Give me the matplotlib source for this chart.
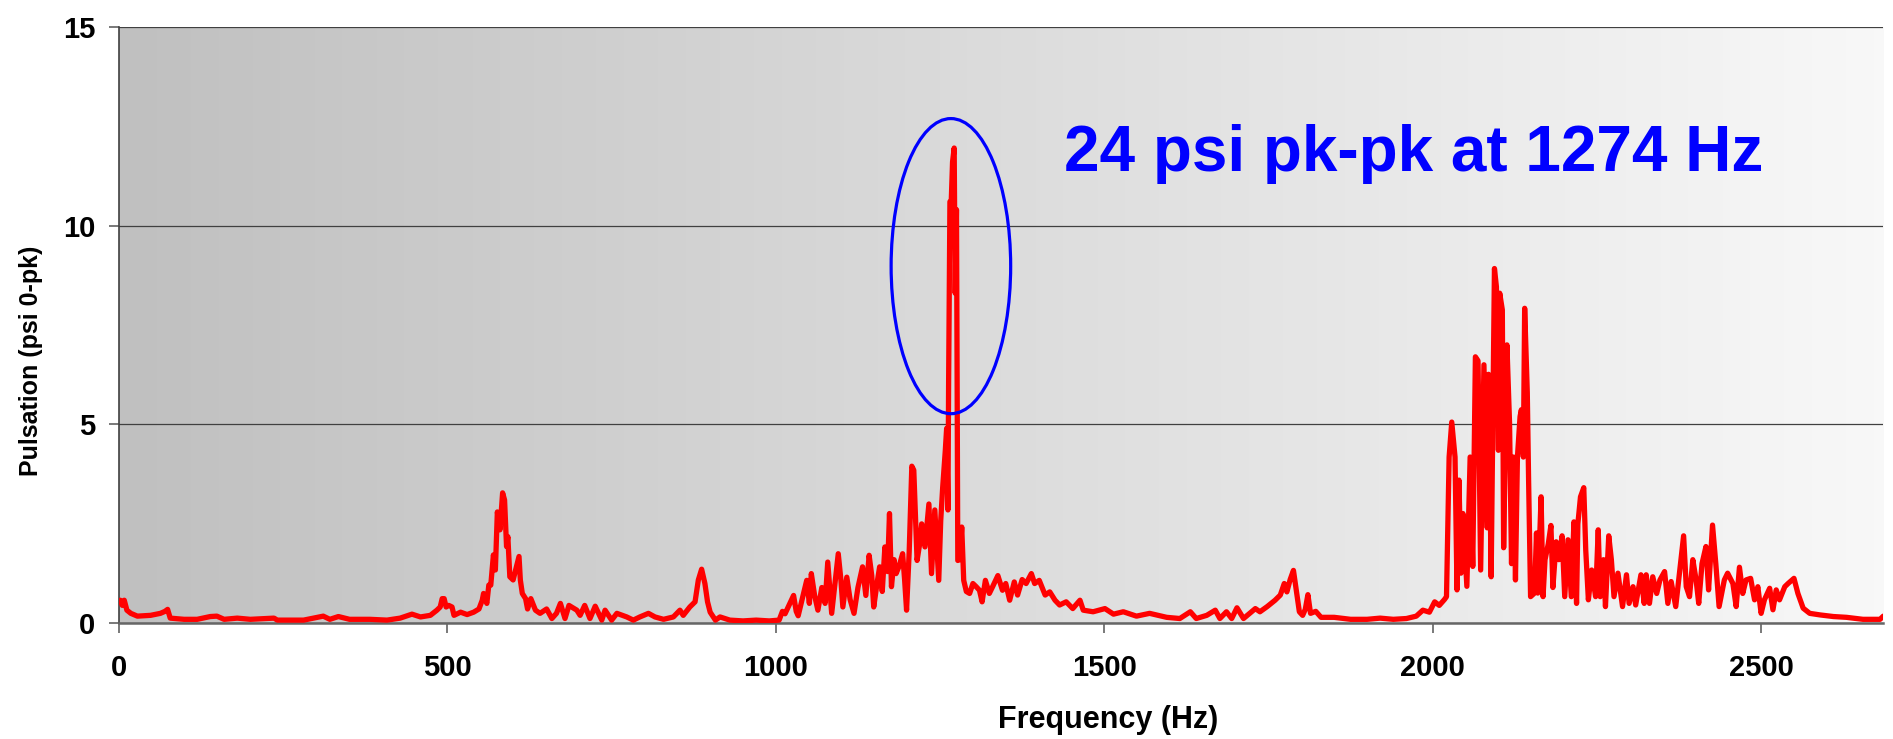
import matplotlib
matplotlib.use("Agg")
import matplotlib.pyplot as plt
import numpy as np
from matplotlib.patches import Ellipse
from matplotlib.colors import LinearSegmentedColormap

plt.rcParams['font.family'] = ['Liberation Sans', 'DejaVu Sans']
plt.rcParams['font.weight'] = 'bold'

# ---- data ----
freq_hz = [
    0, 2, 5, 8, 12, 18, 28, 48, 63, 70, 74, 78, 99, 119, 139, 149, 160, 180, 200, 236,
    241, 281, 311, 321, 334, 351, 382, 408, 428, 446, 459, 474, 484, 489, 492, 495, 498, 502, 507, 510,
    520, 530, 540, 548, 553, 555, 560, 563, 566, 570, 573, 576, 580, 584, 587, 590, 592, 595, 600, 609,
    611, 614, 619, 622, 627, 634, 641, 651, 659, 666, 672, 679, 685, 697, 702, 709, 717, 725, 735, 740,
    750, 758, 773, 783, 793, 806, 816, 829, 844, 854, 859, 869, 877, 882, 887, 892, 896, 900, 908, 915,
    930, 950, 970, 990, 1005, 1010, 1014, 1020, 1027, 1031, 1034, 1040, 1047, 1051, 1054, 1059, 1064, 1070, 1075, 1079,
    1082, 1085, 1090, 1095, 1099, 1102, 1108, 1113, 1119, 1125, 1132, 1137, 1142, 1146, 1149, 1154, 1158, 1162, 1166, 1170,
    1173, 1176, 1180, 1183, 1188, 1193, 1196, 1199, 1203, 1207, 1210, 1215, 1219, 1222, 1227, 1233, 1237, 1242, 1248, 1251,
    1254, 1258, 1260, 1262, 1263, 1265, 1267, 1269, 1271.5, 1273, 1275, 1277, 1280, 1283, 1286, 1290, 1295, 1300, 1305, 1310,
    1314, 1319, 1325, 1330, 1338, 1345, 1350, 1356, 1363, 1368, 1375, 1381, 1389, 1394, 1401, 1410, 1417, 1425, 1432, 1442,
    1452, 1463, 1468, 1483, 1501, 1514, 1529, 1549, 1569, 1595, 1615, 1631, 1640, 1656, 1669, 1676, 1686, 1694, 1702, 1712,
    1730, 1737, 1748, 1760, 1768, 1774, 1778, 1783, 1788, 1793, 1797, 1802, 1806, 1810, 1814, 1822, 1830, 1850, 1875, 1900,
    1920, 1940, 1960, 1975, 1985, 1995, 2003, 2010, 2018, 2021, 2025, 2029, 2034, 2037, 2040, 2043, 2046, 2052, 2057, 2061,
    2065, 2069, 2073, 2078, 2083, 2085, 2089, 2094, 2097, 2100, 2102, 2106, 2108, 2113, 2117, 2120, 2123, 2126, 2129, 2133,
    2135, 2138, 2140, 2144, 2146, 2149, 2155, 2158, 2160, 2165, 2168, 2171, 2176, 2180, 2183, 2188, 2192, 2197, 2201, 2206,
    2211, 2215, 2219, 2221, 2225, 2230, 2233, 2237, 2242, 2248, 2252, 2255, 2260, 2263, 2268, 2272, 2276, 2282, 2289, 2295,
    2299, 2305, 2309, 2317, 2322, 2325, 2330, 2335, 2341, 2346, 2353, 2358, 2363, 2370, 2378, 2382, 2386, 2391, 2396, 2401,
    2405, 2410, 2416, 2420, 2426, 2431, 2436, 2444, 2449, 2457, 2462, 2467, 2472, 2477, 2484, 2490, 2495, 2500, 2505, 2513,
    2518, 2523, 2528, 2536, 2541, 2550, 2556, 2564, 2574, 2590, 2610, 2630, 2655, 2681, 2686,
]
pulsation_psi = [
    0.55, 0.58, 0.45, 0.58, 0.33, 0.25, 0.18, 0.2, 0.25, 0.3, 0.35, 0.13, 0.1, 0.1, 0.17, 0.18, 0.1, 0.13, 0.1, 0.13,
    0.08, 0.08, 0.18, 0.1, 0.17, 0.1, 0.1, 0.08, 0.13, 0.23, 0.16, 0.2, 0.33, 0.41, 0.62, 0.62, 0.41, 0.45, 0.41, 0.2,
    0.28, 0.22, 0.28, 0.36, 0.58, 0.75, 0.5, 0.96, 0.96, 1.72, 1.34, 2.8, 2.35, 3.28, 3.1, 1.93, 2.18, 1.17, 1.09, 1.68,
    1.09, 0.75, 0.62, 0.36, 0.62, 0.33, 0.25, 0.36, 0.12, 0.25, 0.5, 0.12, 0.45, 0.33, 0.2, 0.45, 0.12, 0.43, 0.08, 0.33,
    0.08, 0.25, 0.16, 0.08, 0.16, 0.25, 0.16, 0.1, 0.16, 0.33, 0.2, 0.41, 0.54, 1.09, 1.36, 1.0, 0.54, 0.28, 0.08, 0.16,
    0.08, 0.06, 0.08, 0.06, 0.08, 0.3, 0.24, 0.45, 0.7, 0.3, 0.19, 0.6, 1.08, 0.5, 1.25, 0.7, 0.33, 0.9, 0.5, 1.54,
    0.9, 0.25, 1.0, 1.75, 1.1, 0.41, 1.16, 0.6, 0.25, 0.9, 1.42, 0.7, 1.71, 1.2, 0.41, 1.0, 1.42, 0.8, 1.92, 1.3,
    2.76, 0.92, 1.6, 1.25, 1.45, 1.75, 1.1, 0.33, 1.8, 3.95, 3.85, 1.58, 2.0, 2.5, 1.92, 3.0, 1.25, 2.85, 1.08, 2.58,
    3.42, 4.35, 4.9, 2.85, 6.0, 10.6, 10.6, 11.6, 11.95, 8.3, 10.4, 1.58, 1.6, 2.42, 1.08, 0.8, 0.75, 1.0, 0.92, 0.83,
    0.54, 1.08, 0.75, 0.92, 1.2, 0.83, 1.0, 0.58, 1.04, 0.71, 1.1, 1.0, 1.25, 1.0, 1.08, 0.71, 0.79, 0.58, 0.46, 0.54,
    0.37, 0.58, 0.33, 0.29, 0.37, 0.23, 0.29, 0.18, 0.25, 0.15, 0.12, 0.29, 0.12, 0.2, 0.33, 0.12, 0.29, 0.12, 0.39, 0.12,
    0.37, 0.29, 0.42, 0.58, 0.71, 1.0, 0.79, 1.1, 1.33, 0.75, 0.29, 0.2, 0.35, 0.72, 0.25, 0.3, 0.15, 0.15, 0.1, 0.1,
    0.13, 0.1, 0.12, 0.18, 0.33, 0.28, 0.54, 0.45, 0.6, 0.67, 4.18, 5.06, 4.18, 0.84, 3.6, 1.26, 2.76, 0.93, 4.18, 1.43,
    6.7, 6.6, 1.34, 6.5, 2.4, 6.26, 1.17, 8.92, 8.46, 4.35, 8.3, 7.88, 1.9, 7.0, 5.03, 1.5, 4.18, 1.09, 4.18, 5.2,
    5.37, 4.18, 7.92, 5.8, 3.6, 0.67, 0.76, 2.27, 0.76, 3.18, 0.67, 1.6, 2.0, 2.46, 0.9, 2.05, 1.6, 2.2, 0.67, 2.1,
    0.67, 2.55, 0.5, 2.5, 3.18, 3.41, 1.84, 0.59, 1.34, 0.67, 2.35, 0.67, 1.6, 0.42, 2.2, 1.6, 0.67, 1.26, 0.42, 1.22,
    0.5, 0.92, 0.46, 1.22, 0.5, 1.22, 0.5, 1.17, 0.75, 1.09, 1.3, 0.5, 1.05, 0.42, 1.6, 2.2, 0.92, 0.67, 1.6, 1.09,
    0.5, 1.5, 1.93, 0.84, 2.47, 1.5, 0.42, 1.09, 1.26, 1.0, 0.42, 1.41, 0.75, 1.09, 1.13, 0.59, 0.92, 0.25, 0.59, 0.88,
    0.34, 0.84, 0.59, 0.92, 1.0, 1.13, 0.75, 0.38, 0.25, 0.21, 0.17, 0.15, 0.1, 0.1, 0.18,
]
x_ticks = [0, 500, 1000, 1500, 2000, 2500]
y_ticks = [0, 5, 10, 15]
annotation_text = "24 psi pk-pk at 1274 Hz"
x_label = "Frequency (Hz)"
y_label = "Pulsation (psi 0-pk)"

# ---- figure ----
W, H = 1893, 739
fig = plt.figure(figsize=(W / 100, H / 100), dpi=100)
left, right = 119 / W, 1883.3 / W
bottom, top = 1 - 623.3 / H, 1 - 26.7 / H
ax = fig.add_axes([left, bottom, right - left, top - bottom])

# gradient background
cmap = LinearSegmentedColormap.from_list("bg", ["#c0c0c0", "#f8f8f8"])
grad = np.linspace(0, 1, 256).reshape(1, -1)
ax.imshow(grad, extent=[0, 1, 0, 1], transform=ax.transAxes, aspect='auto',
          cmap=cmap, zorder=0, interpolation='bicubic')

ax.plot(freq_hz, pulsation_psi, color='#ff0000', lw=3.8, solid_joinstyle='round',
        solid_capstyle='round', zorder=3)

ax.set_xlim(0, 2686)
ax.set_ylim(0, 15)
ax.set_xticks(x_ticks)
ax.set_yticks(y_ticks)
ax.set_axisbelow(True)
ax.yaxis.grid(True, color='#404040', lw=0.9)
ax.xaxis.grid(False)

for s in ['top', 'right']:
    ax.spines[s].set_visible(False)
ax.spines['left'].set_color('#404040')
ax.spines['left'].set_linewidth(1.2)
ax.spines['bottom'].set_color('#666666')
ax.spines['bottom'].set_linewidth(1.8)

ax.tick_params(axis='both', direction='out', length=7, width=1.1, color='#555555',
               labelsize=21)
ax.tick_params(axis='x', pad=15)
ax.tick_params(axis='y', pad=10)
for lab in ax.get_xticklabels() + ax.get_yticklabels():
    lab.set_fontweight('bold')

# annotation
ax.add_patch(Ellipse((1266.5, 8.98), 182, 7.42, fill=False, edgecolor='#0000ff',
                     lw=2.3, zorder=4))
ax.text(1439, 11.37, annotation_text, color='#0000ff', fontsize=46, fontweight='bold',
        ha='left', va='baseline', zorder=5)

fig.text(1108 / W, 1 - 728.3 / H, x_label, ha='center', va='baseline',
         fontsize=22, fontweight='bold')
fig.text(31 / W, 1 - 361 / H, y_label, ha='center', va='center', rotation=90,
         fontsize=18, fontweight='bold')

fig.savefig("out.png", dpi=100)
